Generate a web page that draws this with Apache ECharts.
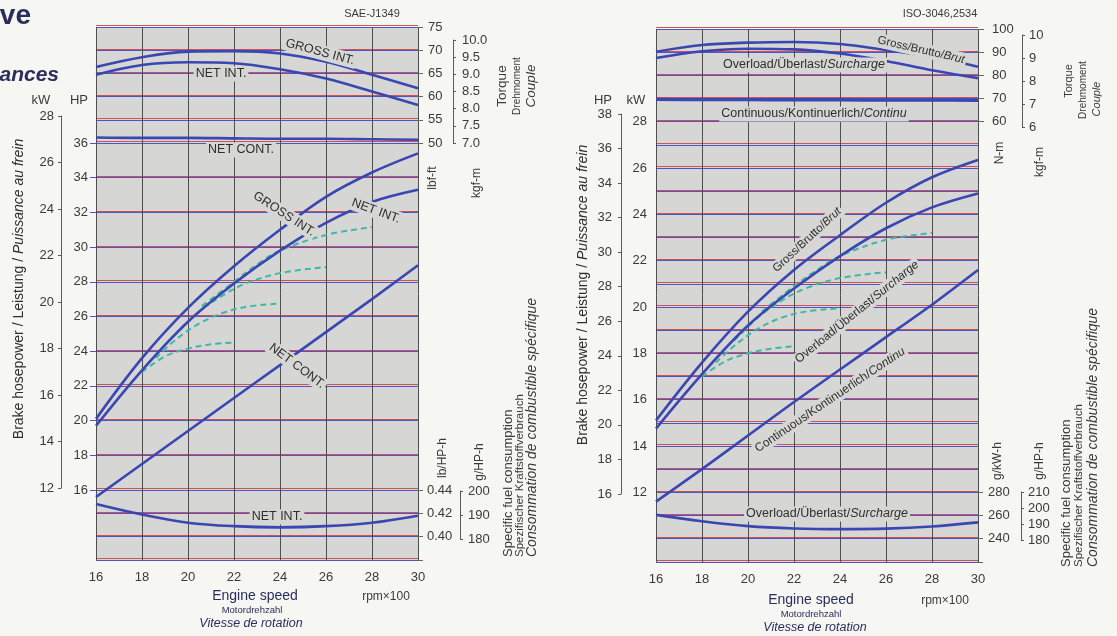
<!DOCTYPE html>
<html>
<head>
<meta charset="utf-8">
<script src="https://cdn.jsdelivr.net/npm/echarts/dist/echarts.min.js"></script>
<style>
  html, body { margin: 0; padding: 0; background: #f6f6f3; }
  #chart { width: 1117px; height: 636px; }
</style>
</head>
<body>
<div id="chart"></div>
<script>
// ---- Engine speed (rpm x 100) ----
const rpm = [16, 18, 20, 22, 24, 26, 28, 30];

// ---- SAE-J1349 panel ----
const saeTorqueGross = [66.4, 68.5, 69.7, 69.8, 69.3, 67.5, 64.7, 61.8];   // lbf-ft
const saeTorqueNet   = [64.7, 66.8, 67.4, 67.2, 65.9, 63.9, 61.1, 58.2];   // lbf-ft
const saeTorqueCont  = [51.2, 51.1, 51.1, 51.0, 50.9, 50.9, 50.8, 50.7];   // lbf-ft
const saePowerGross  = [20.1, 23.6, 26.5, 28.9, 31.0, 32.9, 34.3, 35.4];   // HP
const saePowerNet    = [19.7, 22.9, 25.7, 27.9, 29.8, 31.4, 32.6, 33.3];   // HP
const saePowerCont   = [15.6, 17.5, 19.4, 21.3, 23.2, 25.1, 27.0, 28.95];  // HP
const saeFuelNet     = [0.428, 0.419, 0.412, 0.409, 0.408, 0.409, 0.412, 0.418]; // lb/HP-h
// part-load power (HP), [rpm, HP]
const saePart1 = [[18.0, 22.8], [19.0, 23.7], [20.0, 24.15], [21.0, 24.4], [22.0, 24.5]];
const saePart2 = [[18.6, 23.6], [19.5, 24.7], [20.5, 25.6], [21.5, 26.2], [22.5, 26.55], [24.0, 26.75]];
const saePart3 = [[19.4, 24.9], [20.5, 26.3], [21.5, 27.2], [22.5, 27.9], [24.0, 28.5], [26.0, 28.85]];
const saePart4 = [[20.6, 26.6], [22.0, 28.0], [23.0, 29.0], [24.0, 29.8], [26.0, 30.7], [28.0, 31.15]];

// ---- ISO-3046,2534 panel ----
const isoTorqueGross    = [90.2, 93.1, 94.1, 94.4, 93.5, 90.9, 88.0, 83.7]; // N-m
const isoTorqueOverload = [87.5, 90.4, 91.5, 91.2, 89.4, 86.2, 82.2, 78.8]; // N-m
const isoTorqueCont     = [69.6, 69.5, 69.5, 69.4, 69.4, 69.3, 69.3, 69.2]; // N-m
const isoPowerGross     = [15.1, 17.6, 19.8, 21.6, 23.1, 24.5, 25.6, 26.35]; // kW
const isoPowerOverload  = [14.75, 17.1, 19.2, 20.8, 22.2, 23.4, 24.3, 24.9]; // kW
const isoPowerCont      = [11.6, 13.0, 14.45, 15.9, 17.3, 18.7, 20.1, 21.6]; // kW
const isoFuelOverload   = [260.5, 255.0, 250.8, 248.8, 248.2, 248.6, 250.5, 254.0]; // g/kW-h
const isoPart1 = [[18.0, 17.0], [19.0, 17.65], [20.0, 18.0], [21.0, 18.2], [22.0, 18.3]];
const isoPart2 = [[18.6, 17.6], [19.5, 18.4], [20.5, 19.1], [21.5, 19.55], [22.5, 19.8], [24.0, 19.95]];
const isoPart3 = [[19.4, 18.55], [20.5, 19.6], [21.5, 20.3], [22.5, 20.8], [24.0, 21.25], [26.0, 21.5]];
const isoPart4 = [[20.6, 19.8], [22.0, 20.9], [23.0, 21.6], [24.0, 22.2], [26.0, 22.9], [28.0, 23.2]];

const FONT = '"Liberation Sans", Arial, Helvetica, sans-serif';
const PLOT_W = 322;
const V_LINE = '#4e4e4e';
const RED_LINE = '#d0505a';
const BLUE_LINE = '#4f55c4';
const CURVE = '#3a46b2';
const PART = '#3fb7a2';
const INK = '#3a3a3a';
const NAVY = '#2b2e5c';
const PLOT_BG = '#d6d6d4';
const NUM = { color: INK, fontSize: 13, fontFamily: FONT };

const grids = [], xAxes = [], yAxes = [], series = [], graphics = [];

function addGrid(grid, yAxis, xAxis) {
  const i = grids.length;
  grids.push(Object.assign({ containLabel: false }, grid));
  xAxes.push(Object.assign({ gridIndex: i, type: 'value', min: 16, max: 30, interval: 2, show: false }, xAxis || {}));
  yAxes.push(Object.assign({ gridIndex: i, type: 'value' }, yAxis));
  return i;
}

// full-height panel with the rpm axis and vertical rules
function panelBase(left, top, height) {
  return addGrid(
    { left, top, width: PLOT_W, height, show: true, backgroundColor: PLOT_BG, borderWidth: 0 },
    { show: false, min: 0, max: 1 },
    { show: true, position: 'bottom', axisLine: { show: false }, axisTick: { show: false },
      axisLabel: Object.assign({ margin: 11 }, NUM),
      splitLine: { show: true, lineStyle: { color: V_LINE, width: 1 } } });
}

// a band of two-tone horizontal rules with its own value scale
function ruledBand(left, top, height, y) {
  addGrid({ left, top: top - 1.3, width: PLOT_W, height }, {
    min: y.min, max: y.max, interval: y.interval,
    axisLine: { show: false }, axisTick: { show: false }, axisLabel: { show: false },
    splitLine: { show: true, lineStyle: { color: RED_LINE, width: 1 } } });
  return addGrid({ left, top, width: PLOT_W, height }, Object.assign({
    axisLine: { show: false }, axisTick: { show: false },
    splitLine: { show: true, lineStyle: { color: BLUE_LINE, width: 1.2 } } }, y));
}

// secondary scale drawn as a bracket beside the plot
function bracket(left, top, height, y, side) {
  const inside = side === 'right';
  const lbl = Object.assign({ inside, margin: 7 }, NUM, y.label || {});
  const ya = Object.assign({
    position: 'left',
    axisLine: { show: true, lineStyle: { color: '#5a5a5a', width: 1 } },
    axisTick: { show: true, length: 3, inside, lineStyle: { color: '#5a5a5a' } },
    splitLine: { show: false }, axisLabel: lbl }, y);
  delete ya.label;
  return addGrid({ left, top, width: 1, height }, ya);
}

function curve(g, data, extra) {
  series.push(Object.assign({
    type: 'line', xAxisIndex: g, yAxisIndex: g, data, smooth: 0.35,
    showSymbol: false, symbol: 'none', clip: false, z: 5, silent: true,
    lineStyle: { color: CURVE, width: 2.6 } }, extra || {}));
}
function dashed(g, data) {
  curve(g, data, { z: 4, lineStyle: { color: PART, width: 2, type: [6, 4] } });
}
const pairs = (ys) => rpm.map((x, i) => [x, ys[i]]);

function txt(x, y, text, o) {
  o = o || {};
  graphics.push({
    type: 'text', x, y, rotation: (o.rot || 0) * Math.PI / 180, z: 50, silent: true,
    style: Object.assign({
      text, fill: o.color || INK, font: (o.font || '12px') + ' ' + FONT,
      align: o.align || 'center', verticalAlign: 'middle' }, o.style || {})
  });
}
function richTxt(x, y, text, size, rot, bg, align) {
  const st = {
    rich: {
      a: { font: size + 'px ' + FONT, fill: '#2e2e2e' },
      i: { font: 'italic ' + size + 'px ' + FONT, fill: '#2e2e2e' }
    }
  };
  if (bg) { st.backgroundColor = PLOT_BG; st.padding = [1, 2]; }
  txt(x, y, text, { rot: rot || 0, align: align || 'center', style: st });
}
function plotLabel(x, y, text, rot, size) {
  txt(x, y, text, { rot: rot || 0, font: (size || 12.5) + 'px', color: '#2e2e2e',
    style: { backgroundColor: PLOT_BG, padding: [1, 2] } });
}

// ================= SAE-J1349 =================
const LX = 96;
panelBase(LX, 27, 533);
const gLT = ruledBand(LX, 27, 116, { min: 50, max: 75, interval: 5, position: 'right',
  axisTick: { show: true, length: 5, lineStyle: { color: '#666' } },
  axisLabel: Object.assign({ margin: 10 }, NUM) });
const gLP = ruledBand(LX, 143, 347, { min: 16, max: 36, interval: 2, position: 'left',
  axisTick: { show: true, length: 6, lineStyle: { color: BLUE_LINE } },
  axisLabel: Object.assign({ margin: 8 }, NUM) });
const gLF = ruledBand(LX, 490, 70, { min: 0.38, max: 0.44, interval: 0.02, position: 'right',
  axisTick: { show: true, length: 5, lineStyle: { color: '#666' } },
  axisLabel: Object.assign({ margin: 9, formatter: v => v < 0.39 ? '' : v.toFixed(2) }, NUM) });
bracket(61, 116, 372, { min: 12, max: 28, interval: 2 }, 'left');
bracket(453, 40, 103, { min: 7, max: 10, interval: 0.5, label: { formatter: v => v.toFixed(1), margin: 9 } }, 'right');
bracket(460, 491, 48, { min: 180, max: 200, interval: 10, label: { margin: 8 } }, 'right');

curve(gLT, pairs(saeTorqueGross));
curve(gLT, pairs(saeTorqueNet));
curve(gLT, pairs(saeTorqueCont));
curve(gLP, pairs(saePowerGross));
curve(gLP, pairs(saePowerNet));
curve(gLP, pairs(saePowerCont), { smooth: 0.2 });
curve(gLF, pairs(saeFuelNet));
[saePart1, saePart2, saePart3, saePart4].forEach(d => dashed(gLP, d));

// ================= ISO-3046,2534 =================
const RX = 656;
panelBase(RX, 29, 533);
const gRT = ruledBand(RX, 29, 92.7, { min: 60, max: 100, interval: 10, position: 'right',
  axisTick: { show: true, length: 6, lineStyle: { color: '#666' } },
  axisLabel: Object.assign({ margin: 14 }, NUM) });
const gRP = ruledBand(RX, 121.7, 370.6, { min: 12, max: 28, interval: 1, position: 'left',
  axisTick: { show: false },
  axisLabel: Object.assign({ margin: 9, formatter: v => v % 2 === 0 ? String(v) : '' }, NUM) });
const gRF = ruledBand(RX, 492.3, 69.5, { min: 220, max: 280, interval: 20, position: 'right',
  axisTick: { show: true, length: 5, lineStyle: { color: '#666' } },
  axisLabel: Object.assign({ margin: 10, formatter: v => v < 230 ? '' : String(v) }, NUM) });
bracket(621, 114, 380, { min: 16, max: 38, interval: 2, label: { margin: 9 } }, 'left');
bracket(1022, 35, 92, { min: 6, max: 10, interval: 1, label: { margin: 7 } }, 'right');
bracket(1021, 492, 48, { min: 180, max: 210, interval: 10, label: { margin: 7 } }, 'right');

curve(gRT, pairs(isoTorqueGross));
curve(gRT, pairs(isoTorqueOverload));
curve(gRT, pairs(isoTorqueCont), { lineStyle: { color: CURVE, width: 3.2 } });
curve(gRP, pairs(isoPowerGross));
curve(gRP, pairs(isoPowerOverload));
curve(gRP, pairs(isoPowerCont), { smooth: 0.2 });
curve(gRF, pairs(isoFuelOverload));
[isoPart1, isoPart2, isoPart3, isoPart4].forEach(d => dashed(gRP, d));

// ================= text =================
// heading
txt(31, 16, 'Performance curve', { font: 'bold 28px', color: NAVY, align: 'right' });
txt(59, 75, 'Courbe de performances', { font: 'italic bold 21px', color: NAVY, align: 'right' });

// SAE panel captions
txt(372, 14, 'SAE-J1349', { font: '11px' });
txt(41, 100, 'kW', { font: '13px' });
txt(79, 100, 'HP', { font: '13px' });
richTxt(19, 289, '{a|Brake hosepower / Leistung / }{i|Puissance au frein}', 14, 90);
txt(433, 178, 'lbf-ft', { rot: 90, font: '12px' });
txt(477, 183, 'kgf-m', { rot: 90, font: '12px' });
txt(502, 86, 'Torque', { rot: 90, font: '13.5px' });
txt(517, 86, 'Drehmoment', { rot: 90, font: '10px' });
txt(531, 86, 'Couple', { rot: 90, font: 'italic 13.5px' });
txt(443, 458, 'lb/HP-h', { rot: 90, font: '12px' });
txt(480, 462, 'g/HP-h', { rot: 90, font: '12px' });
txt(508, 557, 'Specific fuel consumption', { rot: 90, font: '13px', align: 'left' });
txt(520, 557, 'Spezifischer Kraftstoffverbrauch', { rot: 90, font: '11.5px', align: 'left' });
txt(532, 557, 'Consommation de combustible spécifique', { rot: 90, font: 'italic 14px', align: 'left' });
txt(255, 596, 'Engine speed', { font: '14px', color: NAVY });
txt(252, 610, 'Motordrehzahl', { font: '9.5px', color: NAVY });
txt(251, 624, 'Vitesse de rotation', { font: 'italic 12.5px', color: NAVY });
txt(386, 597, 'rpm×100', { font: '12px' });

plotLabel(320, 52, 'GROSS INT.', -15);
plotLabel(221, 74, 'NET INT.', 0);
plotLabel(241, 150, 'NET CONT.', 0);
plotLabel(284, 214, 'GROSS INT.', -33);
plotLabel(376, 211, 'NET INT.', -20);
plotLabel(297, 366, 'NET CONT.', -37);
plotLabel(277, 517, 'NET INT.', 0);

// ISO panel captions
txt(940, 14, 'ISO-3046,2534', { font: '11px' });
txt(603, 100, 'HP', { font: '13px' });
txt(636, 100, 'kW', { font: '13px' });
richTxt(583, 295, '{a|Brake hosepower / Leistung / }{i|Puissance au frein}', 14, 90);
txt(1000, 153, 'N-m', { rot: 90, font: '12px' });
txt(1040, 162, 'kgf-m', { rot: 90, font: '12px' });
txt(1069, 81, 'Torque', { rot: 90, font: '11px' });
txt(1083, 90, 'Drehmoment', { rot: 90, font: '10px' });
txt(1097, 99, 'Couple', { rot: 90, font: 'italic 11px' });
txt(998, 461, 'g/kW-h', { rot: 90, font: '12px' });
txt(1040, 461, 'g/HP-h', { rot: 90, font: '12px' });
txt(1066, 567, 'Specific fuel consumption', { rot: 90, font: '13px', align: 'left' });
txt(1079, 567, 'Spezifischer Kraftstoffverbrauch', { rot: 90, font: '11.5px', align: 'left' });
txt(1093, 567, 'Consommation de combustible spécifique', { rot: 90, font: 'italic 14px', align: 'left' });
txt(811, 600, 'Engine speed', { font: '14px', color: NAVY });
txt(811, 614, 'Motordrehzahl', { font: '9.5px', color: NAVY });
txt(815, 628, 'Vitesse de rotation', { font: 'italic 12.5px', color: NAVY });
txt(945, 601, 'rpm×100', { font: '12px' });

richTxt(921, 50, '{a|Gross/Brutto/}{i|Brut}', 11.5, -13, true);
richTxt(804, 65, '{a|Overload/Überlast/}{i|Surcharge}', 12.5, 0, true);
richTxt(814, 114, '{a|Continuous/Kontinuerlich/}{i|Continu}', 12.5, 0, true);
richTxt(807, 240, '{a|Gross/Brutto/}{i|Brut}', 11.5, 43, true);
richTxt(857, 312, '{a|Overload/Überlast/}{i|Surcharge}', 12, 39, true);
richTxt(830, 400, '{a|Continuous/Kontinuerlich/}{i|Continu}', 12, 34, true);
richTxt(827, 514, '{a|Overload/Überlast/}{i|Surcharge}', 12.5, 0, true);

const chart = echarts.init(document.getElementById('chart'), null, { renderer: 'canvas' });
chart.setOption({
  animation: false,
  backgroundColor: '#f6f6f3',
  grid: grids,
  xAxis: xAxes,
  yAxis: yAxes,
  series,
  graphic: graphics
});
</script>
</body>
</html>
